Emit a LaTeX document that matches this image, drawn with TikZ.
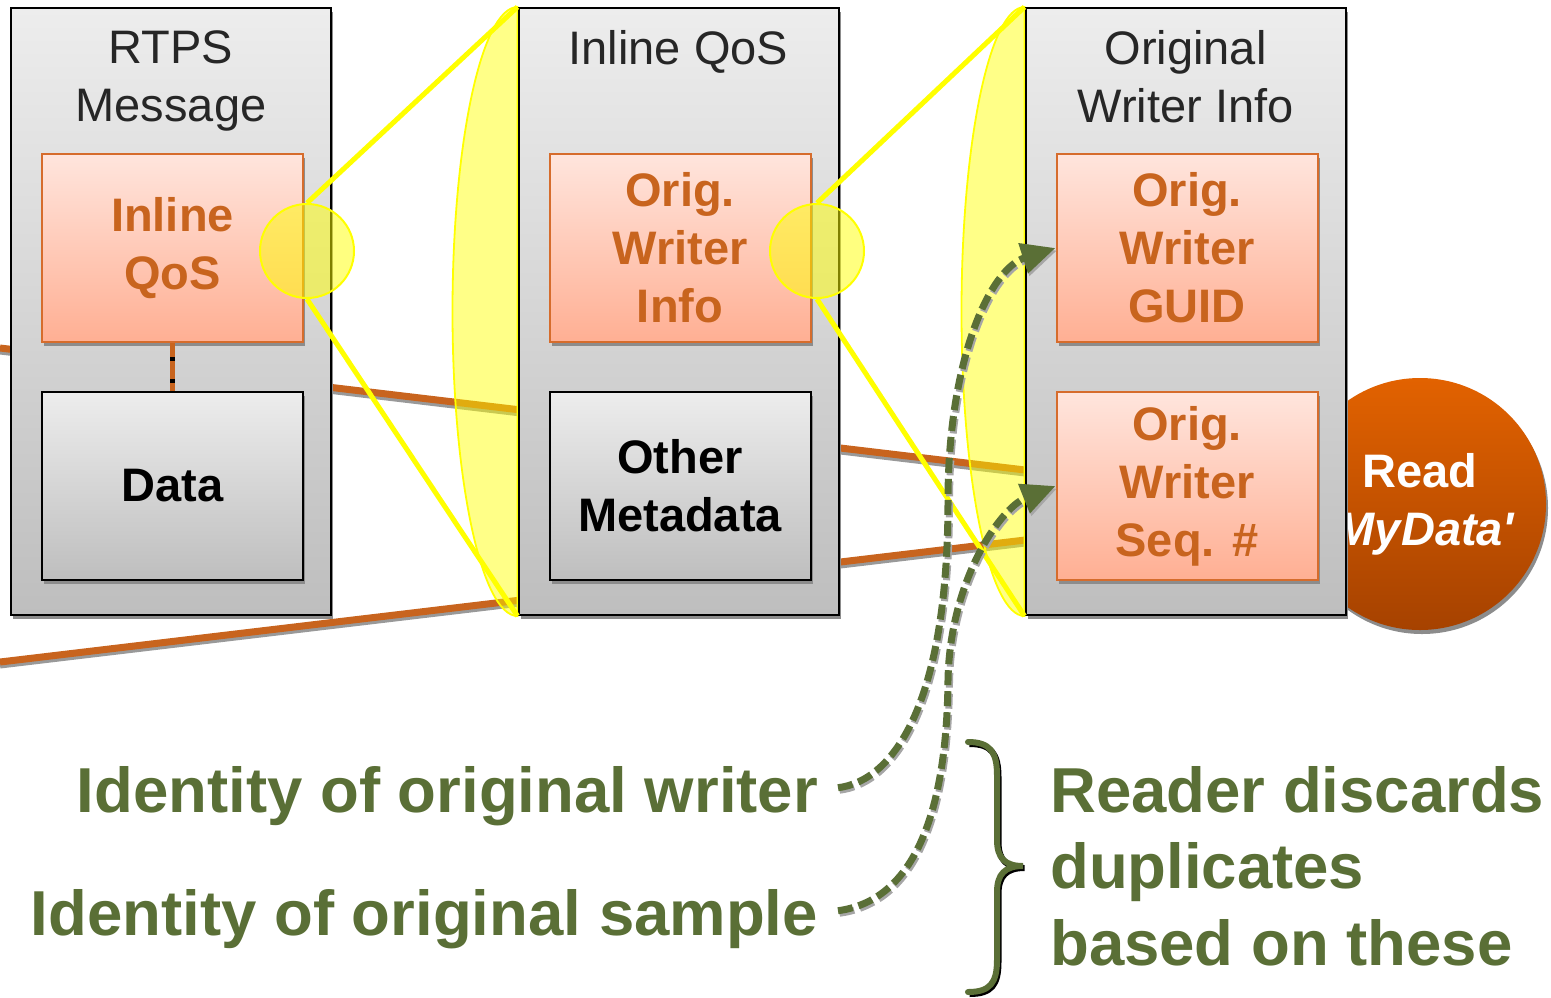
\documentclass[tikz,border=0pt]{standalone}
\usepackage{fontspec}
\setmainfont{Liberation Sans}
\usetikzlibrary{arrows.meta,calc}
\definecolor{orangeline}{RGB}{200,100,30}
\definecolor{orangetext}{RGB}{200,100,30}
\definecolor{orangeborder}{RGB}{214,108,44}
\definecolor{salmontop}{RGB}{255,229,221}
\definecolor{salmonbot}{RGB}{255,175,147}
\definecolor{greytop}{RGB}{237,237,237}
\definecolor{greybot}{RGB}{190,190,190}
\definecolor{leaf}{RGB}{90,111,54}
\definecolor{titlegray}{RGB}{38,38,38}
\definecolor{hlyellow}{RGB}{255,255,0}
\definecolor{redtop}{RGB}{226,98,0}
\definecolor{redbot}{RGB}{166,66,0}
\pgfdeclarelayer{bg}
\pgfsetlayers{bg,main}
\tikzset{
  shadowed/.style={preaction={fill=black!45, transform canvas={xshift=2pt,yshift=-4pt}}},
  outerbox/.style={shadowed, draw=black, line width=2pt, top color=greytop, bottom color=greybot,
    minimum width=320pt, minimum height=607pt, inner sep=0pt},
  fieldbox/.style={shadowed, draw=orangeborder, line width=2pt, top color=salmontop, bottom color=salmonbot,
    minimum width=261pt, minimum height=188pt, align=center, text=orangetext,
    font=\fontsize{47}{58}\selectfont\bfseries, inner sep=0pt},
  plainbox/.style={shadowed, draw=black, line width=2pt, top color=greytop, bottom color=greybot,
    minimum width=261pt, minimum height=188pt, align=center, text=black,
    font=\fontsize{47}{58}\selectfont\bfseries, inner sep=0pt},
  titletext/.style={anchor=north, align=center, inner sep=0pt, text=titlegray,
    font=\fontsize{47}{58}\selectfont},
  zoomring/.style={circle, minimum size=94pt, inner sep=0pt, draw=hlyellow, line width=2pt,
    fill=hlyellow, fill opacity=0.5},
  zoomline/.style={draw=hlyellow, line width=5pt},
  zoomlens/.style={draw=hlyellow, line width=1.8pt, fill=hlyellow, fill opacity=0.47},
  flowline/.style={draw=orangeline, line width=7pt,
    preaction={draw=black!40, line width=7pt, transform canvas={yshift=-3pt}}},
  idarrow/.style={draw=leaf, line width=7pt, dash pattern=on 15pt off 6pt,
    -{Triangle[length=34pt,width=30pt]},
    preaction={draw=black!35, line width=7pt, dash pattern=on 15pt off 6pt,
      transform canvas={xshift=1.5pt,yshift=-2.5pt}}},
  labeltext/.style={inner sep=0pt, text=leaf, font=\fontsize{63.5}{76.5}\selectfont\bfseries},
  readnode/.style={shadowed, circle, minimum size=252pt, inner sep=0pt, top color=redtop,
    bottom color=redbot, text=white, align=center, font=\fontsize{47}{58}\selectfont\bfseries}
}
\begin{document}
\begin{tikzpicture}[x=1pt,y=-1pt]
\useasboundingbox (0,0) rectangle (1551,997);

% reader circle (behind the third box)
\node[readnode] (rd) at (1420,504) {Read\\\textit{\textquotesingle MyData\textquotesingle}};

% outer boxes
\node[outerbox] (b1) at (171,311.5) {};
\node[outerbox] (b2) at (678.5,311.5) {};
\node[outerbox] (b3) at (1185.5,311.5) {};

% titles
\node[titletext] (t1) at (171,30) {RTPS\\Message};
\node[titletext] (t2) at (678.5,30) {Inline QoS};
\node[titletext] (t3) at (1185.5,30) {Original\\Writer Info};

% fields
\node[fieldbox] (q1) at (172.5,248) {Inline\\QoS};
\node[plainbox] (d1) at (172.5,486) {Data};
\node[fieldbox] (w2) at (680,248) {Orig.\\Writer\\Info};
\node[plainbox] (om) at (680,486) {Other\\Metadata};
\node[fieldbox] (guid) at (1187,248) {Orig.\\Writer\\GUID};
\node[fieldbox] (seq) at (1187,486) {Orig.\\Writer\\Seq. \#};

% link between inline qos and data
\draw[draw=orangeline, line width=5.5pt] (q1.south) -- (d1.north);
\draw[draw=black, line width=5.5pt, dash pattern=on 4pt off 18pt, dash phase=-14pt] (q1.south) -- (d1.north);

% background: flow lines and lenses
\begin{pgfonlayer}{bg}
  \coordinate (fa) at (0,348);
  \coordinate (fae) at (1400,514.6);
  \coordinate (fb) at (0,662);
  \coordinate (fbe) at (1400,495.4);
  \draw[flowline] (fa) -- (fae);
  \draw[flowline] (fb) -- (fbe);
  \path[zoomlens] (b2.north west) .. controls +(-36,0) and +(0,-167.6) .. ($(b2.west)+(-65,0)$)
     .. controls +(0,167.6) and +(-36,0) .. (b2.south west) -- cycle;
  \path[zoomlens] (b3.north west) .. controls +(-35,0) and +(0,-167.6) .. ($(b3.west)+(-63,0)$)
     .. controls +(0,167.6) and +(-35,0) .. (b3.south west) -- cycle;
\end{pgfonlayer}

% zoom rings and rays
\node[zoomring] (c1) at (307,251) {};
\node[zoomring] (c2) at (817,251) {};
\draw[zoomline] (c1.north) -- (b2.north west);
\draw[zoomline] (c1.south) -- (b2.south west);
\draw[zoomline] (c2.north) -- (b3.north west);
\draw[zoomline] (c2.south) -- (b3.south west);

% labels
\node[labeltext, anchor=base east] (lw) at (818,812) {Identity of original writer};
\node[labeltext, anchor=base east] (ls) at (818,935) {Identity of original sample};
\node[labeltext, anchor=north west, align=left] (rdup) at (1050,766) {Reader discards\\duplicates\\based on these};

% identity arrows
\draw[idarrow] ($(lw.east)+(20,-8)$) .. controls +(57,-7) and +(0,200) .. ++(110,-287)
   .. controls +(0,-140) and +(-66,21) .. (guid.west);
\draw[idarrow] ($(ls.east)+(20,-8)$) .. controls +(82,-11) and +(-1,120) .. ++(110,-231)
   .. controls +(2,-100) and +(-55,22) .. (seq.west);

% brace
\draw[draw=leaf, line width=6pt, line cap=round,
      preaction={draw=black, line width=6pt, transform canvas={xshift=1.5pt,yshift=-2pt}}]
  (968,742) .. controls (990,742) and (997,752) .. (997,775) -- (997,840)
  .. controls (997,858) and (1005,866) .. (1023,866)
  .. controls (1005,866) and (997,874) .. (997,892) -- (997,960)
  .. controls (997,983) and (990,992) .. (968,992);
\end{tikzpicture}
\end{document}
